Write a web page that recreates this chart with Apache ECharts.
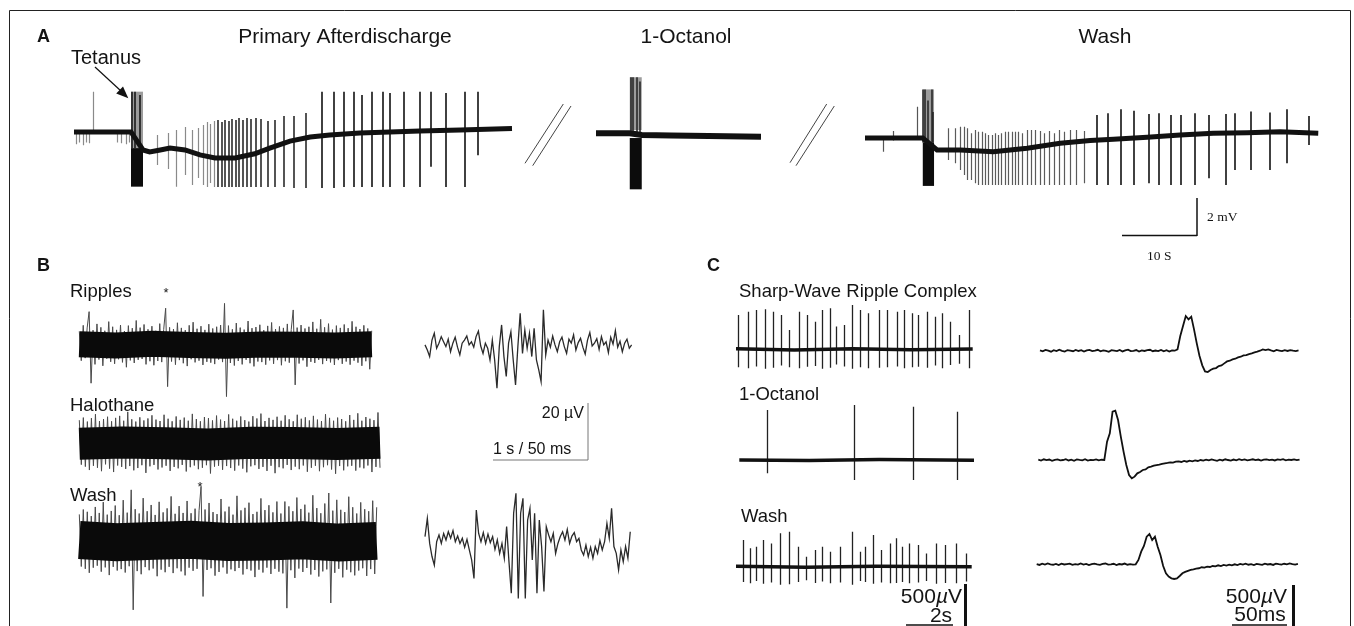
<!DOCTYPE html>
<html><head><meta charset="utf-8">
<script src="https://cdn.jsdelivr.net/npm/echarts@6.0.0/dist/echarts.min.js"></script>
<style>html,body{margin:0;padding:0;background:#fff}#c{width:1354px;height:626px}</style>
</head><body><div id="c"></div><script>
// ---------------- Panel A (time in s, potential in mV) ----------------
const a1Base = [[0,-0.05],[7.6,-0.05],[9.2,-1.0],[10.1,-1.1],[11.5,-1.0],[12.8,-0.9],[14.8,-1.0],[16.8,-1.26],[18.8,-1.42],[21.5,-1.42],[24.1,-1.2],[26.1,-0.9],[28.8,-0.53],[31.5,-0.32],[34.1,-0.21],[38.1,-0.1],[42.1,-0.05],[46.1,0],[51.5,0.05],[58.4,0.13]];
// [time, top, bottom]
const a1Spikes = [[0.3,-0.1,-0.7],[0.7,-0.1,-0.6],[1.2,-0.1,-0.75],[1.6,-0.1,-0.6],[2.0,-0.1,-0.65],[2.5,2.07,-0.15],[5.7,-0.1,-0.6],[6.3,-0.1,-0.65],[6.9,-0.1,-0.7],[7.3,-0.1,-0.6],
[11.1,-0.21,-1.79],[12.6,-0.11,-2.0],[13.6,0.05,-2.93],[14.8,0.21,-2.32],[15.8,0.05,-2.84],[16.6,0.16,-2.47],[17.2,0.32,-2.84],[17.8,0.47,-2.95],[18.2,0.37,-2.74],[18.7,0.53,-2.95],[19.2,0.58,-2.95],[19.7,0.47,-2.95],[20.1,0.58,-2.95],[20.6,0.53,-2.95],[21.0,0.63,-2.95],[21.5,0.58,-2.95],[22.0,0.68,-2.95],[22.5,0.58,-2.95],[23.0,0.68,-2.95],[23.6,0.63,-2.95],[24.2,0.68,-2.95],[24.9,0.63,-2.95],[25.8,0.53,-2.95],[26.7,0.58,-2.95],[27.9,0.79,-2.95],[29.3,0.79,-3.0],[30.9,0.95,-3.0],[33.0,2.07,-3.0],[34.6,2.07,-3.0],[35.9,2.07,-2.95],[37.3,2.07,-2.95],[38.4,1.89,-2.95],[39.7,2.07,-2.95],[41.2,2.07,-2.95],[42.1,2.0,-2.95],[44.0,2.07,-2.95],[46.1,2.07,-2.95],[47.5,2.07,-1.88],[49.6,2.0,-2.95],[52.1,2.07,-2.95],[53.8,2.07,-1.27]];
// tetanus blocks [t0, t1, top, bottom, dark?]
const a1Tet = [[7.6,9.2,2.07,-0.9,0],[7.6,9.2,-0.9,-2.93,1]];
const a1TetLines = [[7.69,2.07,-0.9],[8.13,2.07,-0.9],[8.8,1.9,-0.9]];

const a2Base = [[0,-0.12],[4.5,-0.12],[6.1,-0.21],[10,-0.24],[15,-0.26],[22,-0.3]];
const a2Tet = [[4.5,6.1,2.83,0.05,0],[4.5,6.1,-0.37,-3.07,1]];
const a2TetLines = [[4.6,2.83,-0.2],[4.9,2.83,-0.2],[5.4,2.83,-0.2],[5.8,2.6,-0.2]];

const a3Base = [[0,-0.37],[7.7,-0.37],[9.6,-1.0],[12.7,-1.0],[17.1,-1.09],[21.6,-0.91],[26.0,-0.65],[30.0,-0.5],[33.1,-0.44],[37.6,-0.33],[42.0,-0.21],[46.4,-0.12],[50.9,-0.09],[55.3,-0.04],[60.4,-0.12]];
const a3Spikes = [[2.4,-0.3,-1.09],[3.7,0.0,-0.5],[6.9,1.28,-0.4],
[11.1,0.14,-1.53],[12.0,0.14,-1.7],[12.7,0.23,-2.05],[13.2,0.23,-2.32],[13.6,0.14,-2.58],[14.2,-0.12,-2.58],[14.7,0.05,-2.75],[15.1,-0.04,-2.84],[15.6,-0.04,-2.84],[16.0,-0.12,-2.84],[16.4,-0.21,-2.84],[16.9,-0.21,-2.84],[17.3,-0.12,-2.84],[17.8,-0.21,-2.84],[18.2,-0.12,-2.84],[18.7,-0.04,-2.84],[19.1,-0.04,-2.84],[19.6,-0.04,-2.84],[20.0,-0.04,-2.84],[20.4,-0.04,-2.84],[21.0,-0.12,-2.84],[21.6,0.05,-2.84],[22.1,0.05,-2.84],[22.7,0.05,-2.84],[23.3,0.0,-2.84],[23.9,-0.12,-2.84],[24.5,0.0,-2.84],[25.2,-0.12,-2.84],[25.9,0.05,-2.84],[26.5,-0.04,-2.84],[27.3,0.05,-2.84],[28.2,0.05,-2.84],[29.2,0.0,-2.75],
[30.9,0.84,-2.84],[32.3,0.93,-2.84],[34.1,1.14,-2.84],[35.8,1.07,-2.84],[37.8,0.89,-2.75],[39.2,0.93,-2.84],[40.7,0.84,-2.84],[42.1,0.84,-2.84],[44.0,0.93,-2.84],[45.8,0.84,-2.49],[48.1,0.89,-2.84],[49.3,0.93,-2.05],[51.4,1.02,-2.05],[53.9,0.98,-2.05],[56.2,1.14,-1.7],[59.1,0.79,-0.74]];
const a3Tet = [[7.7,9.2,2.19,-0.6,0],[7.7,9.2,-0.6,-2.89,1]];
const a3TetLines = [[7.75,2.19,-0.6],[8.0,2.19,-0.6],[8.4,1.6,-0.6],[8.9,2.19,-0.6],[9.05,1.0,-0.6]];

// ---------------- Panel B (left: s, right: ms; µV) ----------------
const b1Noise = [4.8,-5.5,6.9,-4.6,6.0,11.7,-13.4,5.2,-6.8,7.4,
-5.1,6.2,-7.3,5.0,-4.8,8.2,-5.9,6.4,-6.6,5.3,
-5.0,7.0,-6.1,4.9,-7.8,6.8,-5.4,5.9,-6.3,8.6,
-5.2,6.1,-4.9,7.2,-6.8,5.5,-5.7,6.6,-7.1,5.0,
-5.6,7.5,-6.0,5.4,12.9,-14.6,6.2,-5.8,5.6,-6.9,
7.8,-5.3,6.0,-6.4,5.2,-7.4,6.9,-5.0,8.0,-6.1,
5.7,-5.5,6.6,-7.0,5.3,-5.9,7.3,-6.2,5.8,-6.7,
6.4,-5.1,7.0,-6.0,14.6,-18.1,6.8,-6.3,5.5,-7.2,
7.7,-5.6,6.1,-6.8,5.4,-5.2,8.4,-6.4,5.9,-7.5,
6.3,-5.8,7.1,-6.0,5.2,-6.9,6.7,-5.4,7.9,-6.6,
5.6,-5.3,6.5,-7.1,6.0,-5.7,7.4,-6.2,5.5,12.3,
-14.0,6.1,-6.5,7.0,-5.4,5.8,-7.6,6.4,-5.9,8.1,
-6.3,5.7,-5.2,9.0,-6.7,6.2,-5.6,7.5,-6.1,5.4,
-7.0,6.8,-5.3,6.0,-6.6,7.2,-5.8,5.9,-6.9,8.3,
-5.5,6.4,-6.2,5.6,-7.3,6.9,-5.7,5.8,-8.5,5.0];
const b1Mid = [0.3,-0.2,0.4,0.0,-0.3,0.2,0.1,-0.2,0.3];
const b2Noise = [8.1,-7.5,9.0,-8.2,7.6,-9.4,8.8,-7.9,10.2,-8.6,
7.8,-9.8,8.5,-7.4,9.3,-8.9,7.7,-10.1,8.9,-7.8,
9.6,-8.3,7.9,-9.0,11.0,-8.0,8.4,-9.5,7.6,-8.7,
9.1,-7.7,8.0,-10.4,8.7,-8.1,9.8,-7.6,8.3,-9.2,
7.8,-8.5,10.0,-7.9,8.6,-9.7,7.7,-8.3,9.4,-8.8,
8.2,-7.6,9.0,-9.9,7.9,-8.4,10.3,-7.8,8.5,-9.1,
7.7,-8.6,9.2,-7.7,8.8,-10.6,8.0,-8.2,9.7,-7.9,
8.3,-9.3,7.8,-8.0,10.1,-8.7,8.6,-9.6,7.9,-7.8,
9.4,-8.9,8.1,-10.2,7.6,-8.1,9.5,-7.7,8.7,-9.0,
10.4,-8.3,7.8,-9.7,8.9,-7.9,8.2,-10.5,9.3,-8.4,
7.9,-8.8,9.8,-7.6,8.4,-9.4,7.7,-8.2,10.0,-9.1,
8.6,-7.8,9.1,-10.0,8.0,-8.6,9.6,-7.9,8.3,-9.8,
7.8,-8.4,10.2,-7.7,8.9,-9.2,7.9,-10.7,9.0,-8.0,
8.5,-9.5,7.7,-8.1,9.9,-7.9,8.2,-9.6,10.5,-8.5,
7.9,-8.8,9.2,-7.8,8.6,-10.1,8.1,-8.3,10.8,-8.6];
const b2Mid = [-0.2,0.3,0.0,-0.4,0.2,0.1,-0.3,0.2];
const b3Noise = [9.5,-8.8,11.2,-9.6,10.4,-11.0,8.9,-9.2,12.1,-8.5,
10.0,-10.6,13.8,-9.1,9.4,-11.8,10.7,-8.9,12.6,-10.2,
9.2,-9.7,14.5,-10.9,10.1,-8.7,18.1,-24.0,11.3,-10.4,
9.8,-11.5,15.2,-9.0,10.6,-10.1,12.8,-9.5,9.3,-12.2,
13.9,-9.9,10.2,-10.8,11.6,-8.9,15.8,-11.1,9.7,-9.4,
12.4,-10.5,10.0,-11.9,14.2,-9.2,9.9,-10.3,11.5,-9.6,
10.8,19.3,-19.3,11.2,-10.0,13.5,-9.4,10.3,-12.0,9.6,
-10.7,14.9,-9.1,10.5,-11.3,12.2,-9.8,9.4,-10.4,16.0,
-9.3,10.9,-11.6,11.8,-9.7,13.6,-10.2,9.6,-12.5,10.4,
-9.9,15.1,-10.9,11.0,-9.2,12.7,-11.4,10.2,-9.6,14.0,
-10.6,9.8,-11.2,14.0,-23.4,12.3,-10.1,10.6,-12.8,15.4,
-9.5,11.4,-10.7,12.9,-9.3,10.1,-11.6,16.2,-10.0,11.7,
-12.3,9.9,-10.5,13.3,-9.8,17.0,-21.6,10.8,-11.0,14.6,
-9.6,11.1,-12.6,10.3,-9.9,15.7,-10.8,12.0,-11.9,9.8,
-10.2,13.7,-9.4,11.3,-12.1,10.6,-9.7,14.3,-11.4,12.0];
const b3Mid = [0.5,-0.3,0.2,0.6,-0.2,0.0,0.4,-0.4,0.2];
const b1rTrace = [1.2,-0.6,-2.9,2.9,5.3,0,1.8,4.1,2.3,0.6,3.2,-1.2,1.8,3.9,0.4,-2.3,1.8,2.9,4.3,1.2,2.3,0.4,4.1,6.0,0.8,-1.8,1.8,0,-4.1,2.9,
-4.1,-14.0,0.6,8.2,-2.9,-9.9,1.8,5.8,-4.1,-12.9,0.6,12.3,-1.8,6.4,0,5.3,-2.9,7.0,-4.1,-7.6,-11.7,13.5,-2.3,
2.9,0.4,4.3,1.2,-1.2,2.3,3.9,0.6,-1.8,3.2,1.8,4.7,-0.6,2.0,3.5,0.4,-2.0,2.9,5.5,0.8,1.8,3.4,-0.4,4.1,1.2,2.3,-1.5,3.9,1.5,6.2,0.4,2.5,-1.2,1.8,3.2,0,1.2];
const b3rTrace = [1.2,7.6,-1.2,-5.8,-8.8,-0.6,1.8,-1.2,2.3,0,2.9,0.6,3.3,-0.6,1.4,-1.2,0.6,-2.6,0.2,-3.5,-7.0,-13.5,10.5,2.3,-0.6,2.6,-1.2,2.1,-0.9,1.2,-3.3,0,-4.7,-1.2,-6.4,4.7,-7.6,-18.7,9.4,16.4,-20.5,9.4,14.6,-20.5,7.0,11.1,-7.0,9.4,-18.7,7.0,-2.3,-18.1,4.7,1.8,-0.6,2.3,-4.7,-1.2,1.2,2.9,0,3.7,-1.2,1.4,2.6,-0.6,0.6,-3.5,-5.3,-1.8,-5.8,-2.6,-6.4,-2.3,-4.7,-0.2,-3.5,-0.6,5.8,0.6,11.1,-2.3,-4.7,-10.5,-3.5,-7.6,-2.3,-6.4,2.9];

// ---------------- Panel C (left: s, right: ms; µV) ----------------
const c1Base = [[0,5],[2.5,-8],[5,6],[7.5,-5],[10.16,3]];
const c1Spikes = [[0.10,381,-200],[0.53,418,-210],[0.89,437,-190],[1.27,444,-215],[1.60,418,-205],[1.96,381,-180],[2.29,215,-200],[2.70,418,-210],[3.06,381,-195],[3.39,307,-185],[3.72,437,-215],[4.06,456,-205],[4.32,252,-170],[4.64,270,-190],[4.97,492,-215],[5.32,437,-200],[5.68,400,-210],[6.14,437,-205],[6.51,437,-200],[6.90,418,-190],[7.21,437,-210],[7.57,400,-200],[7.82,381,-195],[8.21,418,-205],[8.54,363,-180],[8.85,400,-210],[9.18,307,-175],[9.58,159,-160],[10.01,437,-210]];
const c2Base = [[0,0],[3,-6],[6,5],[10.07,-3]];
const c2Spikes = [[1.18,556,-148],[4.94,611,-222],[7.47,592,-222],[9.37,537,-222]];
const c3Base = [[0,4],[3,-5],[6,6],[10.12,0]];
const c3Spikes = [[0.31,296,-170],[0.60,204,-185],[0.89,222,-160],[1.17,296,-190],[1.53,259,-175],[1.89,371,-200],[2.29,389,-195],[2.67,222,-170],[3.00,111,-150],[3.39,185,-180],[3.72,222,-165],[4.06,167,-185],[4.46,222,-175],[4.97,389,-200],[5.32,167,-160],[5.54,222,-170],[5.89,352,-190],[6.25,185,-175],[6.64,259,-185],[6.90,315,-180],[7.15,222,-170],[7.44,259,-185],[7.82,241,-175],[8.18,148,-160],[8.58,259,-190],[8.97,241,-180],[9.47,259,-185],[9.87,148,-165]];
const c1rTrace = [4,-7,8,0,-11,6,-4,11,-2,-9,7,2,-6,9,-3,5,-10,3,8,-5,0,10,-7,4,-2,-12,6,1,-4,9,-8,3,12,-5,-1,7,-9,4,-3,6,10,-6,2,-4,8,-7,5,-10,3,0,
15,163,274,385,348,378,237,81,-59,-163,-230,-237,-215,-200,-193,-170,-163,-141,-119,-111,-96,-89,-74,-67,-52,-48,-37,-30,-19,-11,0,15,7,15,
4,-6,8,2,-5,6,-3,7,0,-4,3];
const c2rTrace = [3,-6,8,-2,5,-9,2,7,-4,0,10,-5,4,-8,6,1,-3,9,-6,2,-1,7,-4,3,
0,204,296,537,548,444,259,93,-56,-167,-204,-185,-148,-133,-111,-104,-81,-74,-63,-56,-52,-44,-37,-33,-26,-30,-19,
-15,-22,-11,-19,-8,-15,-4,-11,0,-7,4,-4,7,-2,-9,3,-5,8,0,-6,5,-3,9,-1,6,-4,2,8,-2,5,-6,3,7,-1,4,-5,6,1,9,-3,4,0,7,-2,5];
const c3rTrace = [2,-7,6,-3,9,0,-5,4,-9,7,-2,3,8,-6,1,-4,10,-3,5,-8,2,7,-1,-6,4,9,-4,0,6,-8,3,-2,8,-5,1,-3,
0,48,141,204,307,337,270,307,196,104,-19,-100,-137,-156,-163,-156,-130,-100,-85,-74,-63,-56,-48,-44,-33,-37,-26,-30,-19,
-22,-11,-19,-7,-15,-4,-11,0,-8,4,-3,6,-5,2,-9,5,0,-6,7,-2,3,-7,8,1,-4,6,-1,9,2,-3,5];

// ---------------- builders ----------------
const SANS = '"Liberation Sans", Arial, sans-serif';
const SERIF = '"Liberation Serif", "Times New Roman", serif';
const grids = [], xAxes = [], yAxes = [], series = [];
function panel(left, top, width, height, xMax, yMin, yMax) {
  const i = grids.length;
  grids.push({left, top, width, height, containLabel: false});
  xAxes.push({gridIndex: i, type: 'value', min: 0, max: xMax, show: false});
  yAxes.push({gridIndex: i, type: 'value', min: yMin, max: yMax, show: false});
  return i;
}
function line(g, data, color, width) {
  series.push({type: 'line', xAxisIndex: g, yAxisIndex: g, data, symbol: 'none', showSymbol: false,
    lineStyle: {color, width, cap: 'butt', join: 'miter'}, silent: true, animation: false, clip: false});
}
function evenly(arr, xMax) { const dt = xMax / (arr.length - 1); return arr.map((v, i) => [i * dt, v]); }
function stepped(arr, dt) { return arr.map((v, i) => [i * dt, v]); }
function spikes(g, arr, colorFn, widthFn) {
  series.push({type: 'lines', coordinateSystem: 'cartesian2d', xAxisIndex: g, yAxisIndex: g,
    data: arr.map(s => ({coords: [[s[0], s[1]], [s[0], s[2]]], lineStyle: {color: colorFn(s[0]), width: widthFn(s[0])}})),
    lineStyle: {width: 1.3, opacity: 1}, silent: true, animation: false});
}
function blocks(g, arr) {
  series.push({type: 'custom', xAxisIndex: g, yAxisIndex: g, data: arr, silent: true, animation: false,
    renderItem: (p, api) => {
      const a = api.coord([api.value(0), api.value(2)]), b = api.coord([api.value(1), api.value(3)]);
      return {type: 'rect', shape: {x: a[0], y: a[1], width: b[0] - a[0], height: b[1] - a[1]},
        style: {fill: api.value(4) === 1 ? '#0c0c0c' : '#9c9c9c'}};
    }});
}
const w = v => () => v;

// Panel A grids (7.5 px/s, 19 px/mV)
const gA1 = panel(74, 74, 438, 123.5, 58.4, -3.5, 3.0);
const gA2 = panel(596, 74, 165, 123.5, 22, -3.5, 3.0);
const gA3 = panel(865, 74, 454, 123.5, 60.5, -3.5, 3.0);
line(gA1, a1Base, '#111', 5);
blocks(gA1, a1Tet);
spikes(gA1, a1Spikes, t => t < 19 ? '#8a8a8a' : (t < 31 ? '#2a2a2a' : '#111'), t => t < 19 ? 1.2 : 1.6);
spikes(gA1, a1TetLines, w('#111'), w(1.5));
line(gA2, a2Base, '#111', 6);
blocks(gA2, a2Tet);
spikes(gA2, a2TetLines, w('#222'), w(1.5));
line(gA3, a3Base, '#111', 5);
blocks(gA3, a3Tet);
spikes(gA3, a3Spikes, t => t < 10 ? '#555' : (t < 30 ? '#5a5a5a' : '#111'), t => t < 30 ? 1.2 : 1.6);
spikes(gA3, a3TetLines, w('#222'), w(1.5));

// Panel B grids (95.7 px/s or px/50ms, 2.85 px/µV)
const gB1 = panel(79.3, 302.25, 292.4, 99.75, 3.055, -20, 15);
const gB2 = panel(79.3, 400.5, 300.7, 85.5, 3.142, -15, 15);
const gB3 = panel(79.3, 484.45, 297.4, 128.25, 3.108, -25, 20);
line(gB1, evenly(b1Noise, 3.055), '#4a4a4a', 1);
line(gB1, evenly(b1Mid, 3.055), '#0a0a0a', 26);
line(gB2, evenly(b2Noise, 3.142), '#4a4a4a', 1);
line(gB2, evenly(b2Mid, 3.142), '#0a0a0a', 32);
line(gB3, evenly(b3Noise, 3.108), '#4a4a4a', 1);
line(gB3, evenly(b3Mid, 3.108), '#0a0a0a', 38);
const gB1r = panel(425, 305.55, 206.7, 99.75, 108, -20, 15);
const gB3r = panel(425, 483, 205.3, 128.25, 107.3, -25, 20);
line(gB1r, stepped(b1rTrace, 1.213), '#2a2a2a', 1.3);
line(gB3r, stepped(b3rTrace, 1.219), '#2a2a2a', 1.3);

// Panel C grids (23.3 px/s, 1.1 px/ms, 0.09 px/µV)
const gC1 = panel(736, 304.3, 236.7, 90, 10.16, -500, 500);
const gC2 = panel(739.3, 397, 234.7, 108, 10.07, -500, 700);
const gC3 = panel(736, 530.7, 235.7, 72, 10.12, -400, 400);
line(gC1, c1Base, '#111', 3.5);
spikes(gC1, c1Spikes, w('#222'), w(1.3));
line(gC2, c2Base, '#111', 3.5);
spikes(gC2, c2Spikes, w('#222'), w(1.3));
line(gC3, c3Base, '#111', 3.5);
spikes(gC3, c3Spikes, w('#222'), w(1.3));
const gC1r = panel(1040, 305.7, 259.3, 81, 235.7, -400, 500);
const gC2r = panel(1038.3, 397, 262.7, 99, 238.8, -400, 700);
const gC3r = panel(1036.7, 528.3, 263.3, 72, 239.4, -400, 400);
line(gC1r, stepped(c1rTrace, 2.5), '#111', 1.8);
line(gC2r, stepped(c2rTrace, 2.5), '#111', 1.8);
line(gC3r, stepped(c3rTrace, 2.5), '#111', 1.8);

// ---------------- annotations ----------------
function txt(text, x, y, size, o) {
  o = o || {};
  return {type: 'text', x, y, silent: true, z: 20, style: Object.assign({text, fontSize: size, fontFamily: o.family || SANS,
    fontWeight: o.bold ? 'bold' : 'normal', fill: o.fill || '#141414', align: o.align || 'left', verticalAlign: 'middle'}, o.extra || {})};
}
function seg(x1, y1, x2, y2, lw, c) {
  return {type: 'line', silent: true, z: 20, shape: {x1, y1, x2, y2}, style: {stroke: c || '#111', lineWidth: lw || 1}};
}
const mu = (x, y, rest, align) => txt('500{i|µ}' + rest, x, y, 21, {align, extra: {rich: {i: {fontStyle: 'italic', fontSize: 21, fontFamily: SANS, fill: '#141414'}}}});
const graphic = [
  {type: 'rect', silent: true, z: 20, shape: {x: 9.5, y: 10.5, width: 1341, height: 700}, style: {fill: 'none', stroke: '#222', lineWidth: 1}},
  txt('A', 37, 37, 18, {bold: true}),
  txt('Tetanus', 71, 58, 20),
  txt('Primary Afterdischarge', 345, 37, 21, {align: 'center'}),
  txt('1-Octanol', 686, 37, 21, {align: 'center'}),
  txt('Wash', 1105, 37, 21, {align: 'center'}),
  seg(95, 67, 121, 91, 1.2),
  {type: 'polygon', silent: true, z: 20, shape: {points: [[128.3, 98.3], [116.2, 93.6], [123.0, 86.4]]}, style: {fill: '#111'}},
  seg(525, 163.3, 563.3, 104, 1, '#444'), seg(532.7, 165.7, 571, 106, 1, '#444'),
  seg(790, 162.7, 826.7, 104, 1, '#444'), seg(796, 165.7, 834.3, 106, 1, '#444'),
  seg(1197, 198, 1197, 236, 1.5), seg(1122, 235.5, 1197, 235.5, 1.5),
  txt('2 mV', 1207, 217, 13.5, {family: SERIF}),
  txt('10 S', 1147, 256, 13.5, {family: SERIF}),
  txt('B', 37, 266, 18, {bold: true}),
  txt('Ripples', 70, 292, 18.5),
  txt('*', 166, 293, 13, {align: 'center'}),
  txt('Halothane', 70, 406, 18.5),
  txt('Wash', 70, 496, 18.5),
  txt('*', 200, 487, 13, {align: 'center'}),
  seg(588, 403, 588, 460, 1, '#777'), seg(493, 460, 588, 460, 1, '#777'),
  txt('20 µV', 584, 414, 16, {align: 'right'}),
  txt('1 s / 50 ms', 493, 450, 16),
  txt('C', 707, 266, 18, {bold: true}),
  txt('Sharp-Wave Ripple Complex', 739, 292, 18.5),
  txt('1-Octanol', 739, 395, 18.5),
  txt('Wash', 741, 517, 18.5),
  mu(962, 597, 'V', 'right'),
  txt('2s', 941, 616, 21, {align: 'center'}),
  seg(906, 625, 953, 625, 1.5), seg(965.5, 584, 965.5, 626, 3),
  mu(1287, 597, 'V', 'right'),
  txt('50ms', 1260, 615, 21, {align: 'center'}),
  seg(1232, 625, 1287, 625, 1.5), seg(1293.5, 585, 1293.5, 626, 3)
];

const chart = echarts.init(document.getElementById('c'), null, {renderer: 'canvas', width: 1354, height: 626});
chart.setOption({animation: false, backgroundColor: '#fff', grid: grids, xAxis: xAxes, yAxis: yAxes, series, graphic});
</script></body></html>
